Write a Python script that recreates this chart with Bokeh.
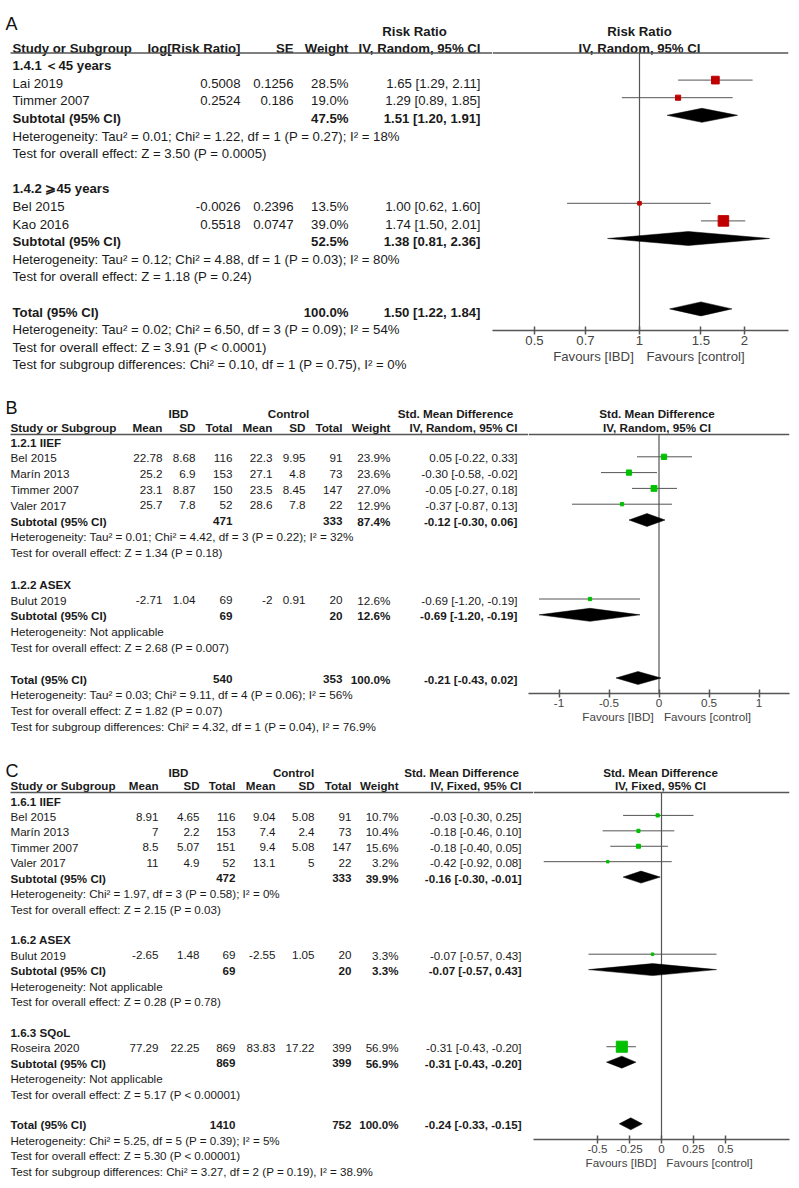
import math
from bokeh.plotting import figure
from bokeh.models import (ColumnDataSource, Range1d, Span, FixedTicker, PrintfTickFormatter,
                          CustomJSTickFormatter, LinearAxis)
from bokeh.layouts import column, row
from bokeh.core.properties import value
from bokeh.embed import file_html
from bokeh.resources import INLINE

FONT = "Liberation Sans"
TXT = "#1a1a1a"
GRAY = "#555555"
PAGE_W = 799
MARK_DY = -2.5     # forest marks sit slightly above the text centre of their row

# ---------------- Panel A data ----------------
A_group_labels = ["1.4.1 \uff1c45 years", "1.4.2 \u2a7e45 years"]
A_studies = ["Lai 2019", "Timmer 2007", "Bel 2015", "Kao 2016"]
A_study_group = [0, 0, 1, 1]
A_log_rr = [0.5008, 0.2524, -0.0026, 0.5518]
A_se = [0.1256, 0.186, 0.2396, 0.0747]
A_weight = [28.5, 19.0, 13.5, 39.0]
A_rr = [1.65, 1.29, 1.00, 1.74]
A_rr_lo = [1.29, 0.89, 0.62, 1.50]
A_rr_hi = [2.11, 1.85, 1.60, 2.01]
A_sub_weight = [47.5, 52.5]
A_sub_rr = [1.51, 1.38]
A_sub_lo = [1.20, 0.81]
A_sub_hi = [1.91, 2.36]
A_total_weight = 100.0
A_total_rr = [1.50, 1.22, 1.84]
A_het = ["Heterogeneity: Tau\u00b2 = 0.01; Chi\u00b2 = 1.22, df = 1 (P = 0.27); I\u00b2 = 18%",
         "Heterogeneity: Tau\u00b2 = 0.12; Chi\u00b2 = 4.88, df = 1 (P = 0.03); I\u00b2 = 80%"]
A_test = ["Test for overall effect: Z = 3.50 (P = 0.0005)",
          "Test for overall effect: Z = 1.18 (P = 0.24)"]
A_notes = ["Heterogeneity: Tau\u00b2 = 0.02; Chi\u00b2 = 6.50, df = 3 (P = 0.09); I\u00b2 = 54%",
           "Test for overall effect: Z = 3.91 (P < 0.0001)",
           "Test for subgroup differences: Chi\u00b2 = 0.10, df = 1 (P = 0.75), I\u00b2 = 0%"]
A_ticks = [0.5, 0.7, 1, 1.5, 2]

# ---------------- Panel B data ----------------
B_group_labels = ["1.2.1 IIEF", "1.2.2 ASEX"]
B_studies = ["Bel 2015", "Mar\u00edn 2013", "Timmer 2007", "Valer 2017", "Bulut 2019"]
B_study_group = [0, 0, 0, 0, 1]
B_ibd_mean = [22.78, 25.2, 23.1, 25.7, -2.71]
B_ibd_sd = [8.68, 6.9, 8.87, 7.8, 1.04]
B_ibd_n = [116, 153, 150, 52, 69]
B_ctl_mean = [22.3, 27.1, 23.5, 28.6, -2]
B_ctl_sd = [9.95, 4.8, 8.45, 7.8, 0.91]
B_ctl_n = [91, 73, 147, 22, 20]
B_weight = [23.9, 23.6, 27.0, 12.9, 12.6]
B_smd = [0.05, -0.30, -0.05, -0.37, -0.69]
B_smd_lo = [-0.22, -0.58, -0.27, -0.87, -1.20]
B_smd_hi = [0.33, -0.02, 0.18, 0.13, -0.19]
B_sub_ibd_n = [471, 69]
B_sub_ctl_n = [333, 20]
B_sub_weight = [87.4, 12.6]
B_sub_smd = [-0.12, -0.69]
B_sub_lo = [-0.30, -1.20]
B_sub_hi = [0.06, -0.19]
B_total_n = [540, 353]
B_total_weight = 100.0
B_total_smd = [-0.21, -0.43, 0.02]
B_het = ["Heterogeneity: Tau\u00b2 = 0.01; Chi\u00b2 = 4.42, df = 3 (P = 0.22); I\u00b2 = 32%",
         "Heterogeneity: Not applicable"]
B_test = ["Test for overall effect: Z = 1.34 (P = 0.18)",
          "Test for overall effect: Z = 2.68 (P = 0.007)"]
B_notes = ["Heterogeneity: Tau\u00b2 = 0.03; Chi\u00b2 = 9.11, df = 4 (P = 0.06); I\u00b2 = 56%",
           "Test for overall effect: Z = 1.82 (P = 0.07)",
           "Test for subgroup differences: Chi\u00b2 = 4.32, df = 1 (P = 0.04), I\u00b2 = 76.9%"]
B_ticks = [-1, -0.5, 0, 0.5, 1]

# ---------------- Panel C data ----------------
C_group_labels = ["1.6.1 IIEF", "1.6.2 ASEX", "1.6.3 SQoL"]
C_studies = ["Bel 2015", "Mar\u00edn 2013", "Timmer 2007", "Valer 2017", "Bulut 2019", "Roseira 2020"]
C_study_group = [0, 0, 0, 0, 1, 2]
C_ibd_mean = [8.91, 7, 8.5, 11, -2.65, 77.29]
C_ibd_sd = [4.65, 2.2, 5.07, 4.9, 1.48, 22.25]
C_ibd_n = [116, 153, 151, 52, 69, 869]
C_ctl_mean = [9.04, 7.4, 9.4, 13.1, -2.55, 83.83]
C_ctl_sd = [5.08, 2.4, 5.08, 5, 1.05, 17.22]
C_ctl_n = [91, 73, 147, 22, 20, 399]
C_weight = [10.7, 10.4, 15.6, 3.2, 3.3, 56.9]
C_smd = [-0.03, -0.18, -0.18, -0.42, -0.07, -0.31]
C_smd_lo = [-0.30, -0.46, -0.40, -0.92, -0.57, -0.43]
C_smd_hi = [0.25, 0.10, 0.05, 0.08, 0.43, -0.20]
C_sub_ibd_n = [472, 69, 869]
C_sub_ctl_n = [333, 20, 399]
C_sub_weight = [39.9, 3.3, 56.9]
C_sub_smd = [-0.16, -0.07, -0.31]
C_sub_lo = [-0.30, -0.57, -0.43]
C_sub_hi = [-0.01, 0.43, -0.20]
C_total_n = [1410, 752]
C_total_weight = 100.0
C_total_smd = [-0.24, -0.33, -0.15]
C_het = ["Heterogeneity: Chi\u00b2 = 1.97, df = 3 (P = 0.58); I\u00b2 = 0%",
         "Heterogeneity: Not applicable",
         "Heterogeneity: Not applicable"]
C_test = ["Test for overall effect: Z = 2.15 (P = 0.03)",
          "Test for overall effect: Z = 0.28 (P = 0.78)",
          "Test for overall effect: Z = 5.17 (P < 0.00001)"]
C_notes = ["Heterogeneity: Chi\u00b2 = 5.25, df = 5 (P = 0.39); I\u00b2 = 5%",
           "Test for overall effect: Z = 5.30 (P < 0.00001)",
           "Test for subgroup differences: Chi\u00b2 = 3.27, df = 2 (P = 0.19), I\u00b2 = 38.9%"]
C_ticks = [-0.5, -0.25, 0, 0.25, 0.5]


def ci(e, l, h):
    return f"{e:.2f} [{l:.2f}, {h:.2f}]"


def pct(w):
    return f"{w:.1f}%"


def strs(vals):
    return [str(v) for v in vals]


def blanks(n):
    return [""] * n


def build_panel(S):
    top, bottom = S["top"], S["bottom"]
    H = bottom - top
    fl, ar, axy = S["forest_left"], S["axis_right"], S["axis_y"]
    fs = S["fs"]
    fsv = value(f"{fs}px")
    half_cap = 0.358 * fs
    sx = S["study_x"]
    tdy, hdy = S["text_dy"], S["head_dy"]

    def ry(i):
        return S["row0"] + S["pitch"] * i

    norm = dict(x=[], y=[], text=[], align=[])
    bold = dict(x=[], y=[], text=[], align=[])

    def put(d, x, y, t, al):
        if t == "":
            return
        d["x"].append(x)
        d["y"].append(y)
        d["text"].append(t)
        d["align"].append(al)

    def row_y(yc):
        return yc + half_cap + tdy

    for t, x, al in S["head_top"]:
        put(bold, x, S["head_top_y"] + half_cap + hdy, t, al)
    for t, x, al in S["head"]:
        put(bold, x, S["head_base"] + hdy, t, al)

    n = len(S["studies"])
    study_y = [0.0] * n
    sub_y = []
    i = 0
    for g, glabel in enumerate(S["groups"]):
        put(bold, sx, row_y(ry(i)), glabel, "left")
        i += 1
        for k in range(n):
            if S["study_group"][k] == g:
                put(norm, sx, row_y(ry(i)), S["studies"][k], "left")
                for (x, vals, subs, tot) in S["cols"]:
                    put(norm, x, row_y(ry(i)), vals[k], "right")
                study_y[k] = ry(i) + MARK_DY
                i += 1
        put(bold, sx, row_y(ry(i)), "Subtotal (95% CI)", "left")
        for (x, vals, subs, tot) in S["cols"]:
            put(bold, x, row_y(ry(i)), subs[g], "right")
        sub_y.append(ry(i) + MARK_DY)
        i += 1
        put(norm, sx, row_y(ry(i)), S["het"][g], "left")
        i += 1
        put(norm, sx, row_y(ry(i)), S["test"][g], "left")
        i += 2
    put(bold, sx, row_y(ry(i)), "Total (95% CI)", "left")
    for (x, vals, subs, tot) in S["cols"]:
        put(bold, x, row_y(ry(i)), tot, "right")
    total_y = ry(i) + MARK_DY
    i += 1
    for note in S["notes"]:
        put(norm, sx, row_y(ry(i)), note, "left")
        i += 1

    # ---------- table figure ----------
    t = figure(width=fl, height=H, x_range=Range1d(0, fl), y_range=Range1d(bottom, top),
               output_backend="svg", toolbar_location=None, x_axis_location=None,
               y_axis_location=None, min_border=0, outline_line_color=None, frame_align=False)
    t.grid.visible = False
    t.text(x="x", y="y", text="text", text_align="align", source=ColumnDataSource(norm),
           text_font=value(FONT), text_font_size=fsv, text_color=TXT, text_baseline="alphabetic")
    t.text(x="x", y="y", text="text", text_align="align", source=ColumnDataSource(bold),
           text_font=value(FONT), text_font_size=fsv, text_color=TXT, text_baseline="alphabetic",
           text_font_style="bold")
    t.text(x=[5], y=[S["letter_y"] + 0.358 * 18 + S["letter_dy"]], text=[S["letter"]],
           text_font=value(FONT), text_font_size=value("18px"), text_color="#111111",
           text_baseline="alphabetic")
    t.segment(x0=[10], y0=[S["head_line"]], x1=[fl], y1=[S["head_line"]],
              line_color=GRAY, line_width=1.5)

    # ---------- forest figure ----------
    log = S["log"]
    null, npx, ppu = S["null"], S["null_px"], S["ppu"]

    def px2d(p):
        if log:
            return null * math.exp((p - npx) / ppu)
        return null + (p - npx) / ppu

    fw = PAGE_W - fl
    f = figure(width=fw, height=H, x_range=Range1d(px2d(fl), px2d(ar)),
               y_range=Range1d(axy, top), x_axis_type="log" if log else "linear",
               output_backend="svg", toolbar_location=None, y_axis_location=None,
               min_border_left=0, min_border_right=PAGE_W - ar, min_border_top=0,
               min_border_bottom=bottom - axy, outline_line_color=None, frame_align=False)
    f.grid.visible = False
    ax = f.xaxis[0]
    ax.ticker = FixedTicker(ticks=S["ticks"], minor_ticks=[])
    ax.formatter = PrintfTickFormatter(format="%g")
    ax.axis_line_color = GRAY
    ax.axis_line_width = 1.5
    ax.major_tick_line_color = GRAY
    ax.major_tick_line_width = 1.5
    ax.major_tick_in = 4
    ax.major_tick_out = 4
    ax.minor_tick_line_color = None
    ax.major_label_standoff = S["tick_standoff"]
    ax.major_label_text_font = FONT
    ax.major_label_text_font_size = f"{fs}px"
    ax.major_label_text_color = "#444444"

    fav = LinearAxis(ticker=FixedTicker(ticks=[px2d(S["fav_px"][0]), px2d(S["fav_px"][1])], minor_ticks=[]),
                     formatter=CustomJSTickFormatter(
                         code=f"return tick < {null} ? 'Favours [IBD]' : 'Favours [control]';"),
                     axis_line_color=None, major_tick_line_color=None, minor_tick_line_color=None,
                     major_tick_in=0, major_tick_out=0, major_label_standoff=S["fav_standoff"],
                     major_label_text_font=FONT, major_label_text_font_size=f"{fs}px",
                     major_label_text_color="#444444")
    f.add_layout(fav, "below")

    f.add_layout(Span(location=S["head_line"], dimension="width", line_color=GRAY, line_width=1.5))
    f.segment(x0=[null], y0=[S["head_line"]], x1=[null], y1=[axy], line_color=GRAY, line_width=1.2)
    f.text(x=[null, null], y=[S["head_top_y"] + half_cap + hdy, S["head_base"] + hdy],
           text=[S["f_head"][0], S["f_head"][1]], text_align="center", x_offset=S["f_head_dx"],
           text_font=value(FONT), text_font_size=fsv, text_font_style="bold", text_color=TXT,
           text_baseline="alphabetic")
    f.segment(x0=S["lo"], y0=study_y, x1=S["hi"], y1=study_y, line_color=GRAY, line_width=1)
    sizes = [max(S["sq_min"], S["sq_a"] + S["sq_b"] * w) for w in S["weight"]]
    f.scatter(x=S["est"], y=study_y, marker="square", size=sizes,
              fill_color=S["sq_color"], line_color=S["sq_color"])
    dh = S["dh"]
    d_est = S["sub_est"] + [S["tot"][0]]
    d_lo = S["sub_lo"] + [S["tot"][1]]
    d_hi = S["sub_hi"] + [S["tot"][2]]
    d_y = sub_y + [total_y]
    xs = [[l, e, h, e] for e, l, h in zip(d_est, d_lo, d_hi)]
    ys = [[y, y - dh, y, y + dh] for y in d_y]
    f.patches(xs=xs, ys=ys, fill_color="black", line_color="black", line_width=0.5)
    return row(t, f)


specA = dict(
    letter="A", letter_y=19, letter_dy=-2, top=0, bottom=375, forest_left=492, axis_right=788,
    axis_y=330, fs=13.2, row0=64.5, pitch=17.6, study_x=12, text_dy=-4, head_dy=-2,
    head_top_y=28, head_top=[("Risk Ratio", 414, "center")],
    head_base=50, head_line=52.5,
    head=[("Study or Subgroup", 12, "left"), ("log[Risk Ratio]", 240, "right"), ("SE", 293, "right"),
          ("Weight", 348, "right"), ("IV, Random, 95% CI", 480, "right")],
    cols=[(240, strs(A_log_rr), blanks(2), ""),
          (293, strs(A_se), blanks(2), ""),
          (348, [pct(w) for w in A_weight], [pct(w) for w in A_sub_weight], pct(A_total_weight)),
          (480, [ci(*v) for v in zip(A_rr, A_rr_lo, A_rr_hi)],
           [ci(*v) for v in zip(A_sub_rr, A_sub_lo, A_sub_hi)], ci(*A_total_rr))],
    groups=A_group_labels, studies=A_studies, study_group=A_study_group,
    het=A_het, test=A_test, notes=A_notes,
    log=True, null=1, null_px=639, ppu=151.5, ticks=A_ticks,
    est=A_rr, lo=A_rr_lo, hi=A_rr_hi, weight=A_weight,
    sub_est=A_sub_rr, sub_lo=A_sub_lo, sub_hi=A_sub_hi, tot=A_total_rr,
    sq_color="#c00000", sq_a=0, sq_b=0.27, sq_min=3, dh=7,
    f_head=("Risk Ratio", "IV, Random, 95% CI"), f_head_dx=0,
    fav_px=(593, 695), tick_standoff=1, fav_standoff=1,
)

specB = dict(
    letter="B", letter_y=406, letter_dy=-5, top=375, bottom=757, forest_left=528, axis_right=789,
    axis_y=693, fs=11.7, row0=443, pitch=15.8, study_x=10, text_dy=-5.5, head_dy=-4,
    head_top_y=413, head_top=[("IBD", 178, "center"), ("Control", 288, "center"),
                              ("Std. Mean Difference", 455, "center")],
    head_base=431, head_line=434,
    head=[("Study or Subgroup", 10, "left"), ("Mean", 162, "right"), ("SD", 195, "right"),
          ("Total", 232, "right"), ("Mean", 272, "right"), ("SD", 305, "right"),
          ("Total", 342, "right"), ("Weight", 390, "right"), ("IV, Random, 95% CI", 517, "right")],
    cols=[(162, strs(B_ibd_mean), blanks(2), ""),
          (195, strs(B_ibd_sd), blanks(2), ""),
          (232, strs(B_ibd_n), strs(B_sub_ibd_n), str(B_total_n[0])),
          (272, strs(B_ctl_mean), blanks(2), ""),
          (305, strs(B_ctl_sd), blanks(2), ""),
          (342, strs(B_ctl_n), strs(B_sub_ctl_n), str(B_total_n[1])),
          (390, [pct(w) for w in B_weight], [pct(w) for w in B_sub_weight], pct(B_total_weight)),
          (517, [ci(*v) for v in zip(B_smd, B_smd_lo, B_smd_hi)],
           [ci(*v) for v in zip(B_sub_smd, B_sub_lo, B_sub_hi)], ci(*B_total_smd))],
    groups=B_group_labels, studies=B_studies, study_group=B_study_group,
    het=B_het, test=B_test, notes=B_notes,
    log=False, null=0, null_px=658.5, ppu=100, ticks=B_ticks,
    est=B_smd, lo=B_smd_lo, hi=B_smd_hi, weight=B_weight,
    sub_est=B_sub_smd, sub_lo=B_sub_lo, sub_hi=B_sub_hi, tot=B_total_smd,
    sq_color="#00c000", sq_a=1, sq_b=0.18, sq_min=3, dh=6.5,
    f_head=("Std. Mean Difference", "IV, Random, 95% CI"), f_head_dx=-2,
    fav_px=(617.5, 707), tick_standoff=1, fav_standoff=0,
)

specC = dict(
    letter="C", letter_y=769, letter_dy=-5, top=757, bottom=1188, forest_left=533, axis_right=789,
    axis_y=1139, fs=11.6, row0=802, pitch=15.42, study_x=10, text_dy=-5.5, head_dy=-4,
    head_top_y=772, head_top=[("IBD", 178, "center"), ("Control", 293, "center"),
                              ("Std. Mean Difference", 461, "center")],
    head_base=789, head_line=792,
    head=[("Study or Subgroup", 10, "left"), ("Mean", 158, "right"), ("SD", 199, "right"),
          ("Total", 235, "right"), ("Mean", 275, "right"), ("SD", 314, "right"),
          ("Total", 351, "right"), ("Weight", 398, "right"), ("IV, Fixed, 95% CI", 521, "right")],
    cols=[(158, strs(C_ibd_mean), blanks(3), ""),
          (199, strs(C_ibd_sd), blanks(3), ""),
          (235, strs(C_ibd_n), strs(C_sub_ibd_n), str(C_total_n[0])),
          (275, strs(C_ctl_mean), blanks(3), ""),
          (314, strs(C_ctl_sd), blanks(3), ""),
          (351, strs(C_ctl_n), strs(C_sub_ctl_n), str(C_total_n[1])),
          (398, [pct(w) for w in C_weight], [pct(w) for w in C_sub_weight], pct(C_total_weight)),
          (521, [ci(*v) for v in zip(C_smd, C_smd_lo, C_smd_hi)],
           [ci(*v) for v in zip(C_sub_smd, C_sub_lo, C_sub_hi)], ci(*C_total_smd))],
    groups=C_group_labels, studies=C_studies, study_group=C_study_group,
    het=C_het, test=C_test, notes=C_notes,
    log=False, null=0, null_px=661, ppu=128, ticks=C_ticks,
    est=C_smd, lo=C_smd_lo, hi=C_smd_hi, weight=C_weight,
    sub_est=C_sub_smd, sub_lo=C_sub_lo, sub_hi=C_sub_hi, tot=C_total_smd,
    sq_color="#00c000", sq_a=1.4, sq_b=0.17, sq_min=2.5, dh=6,
    f_head=("Std. Mean Difference", "IV, Fixed, 95% CI"), f_head_dx=-1,
    fav_px=(620.5, 709), tick_standoff=1, fav_standoff=0,
)

layout = column(build_panel(specA), build_panel(specB), build_panel(specC))
open("out.html", "w").write(file_html(layout, INLINE))
